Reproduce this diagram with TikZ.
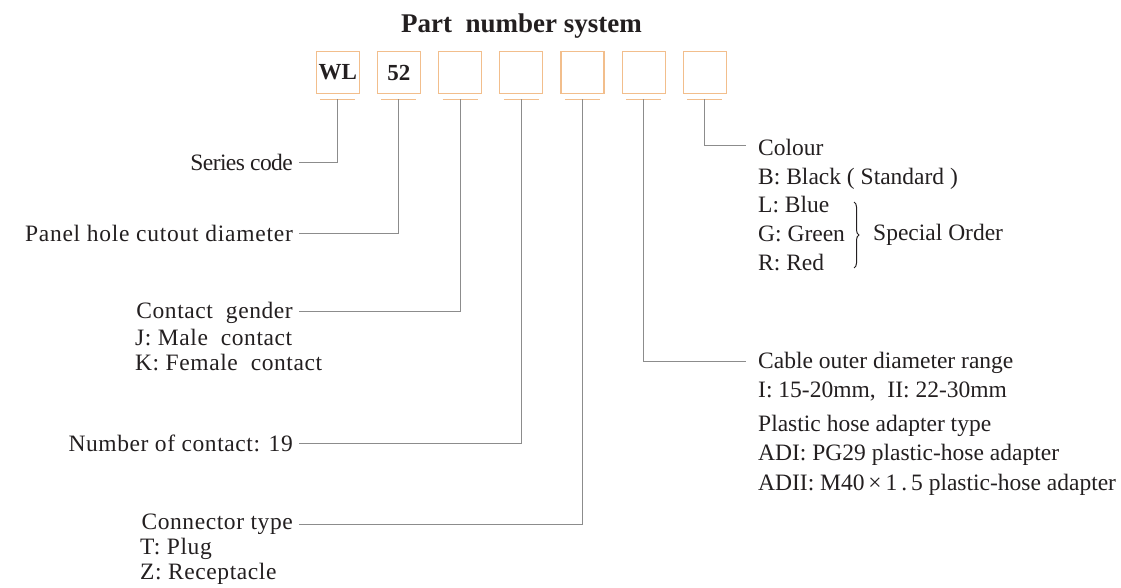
\documentclass[tikz,border=0pt]{standalone}
\usepackage{fontspec}
\setmainfont{Liberation Serif}
\usetikzlibrary{positioning,decorations.pathreplacing}
\definecolor{boxline}{HTML}{F2BE8C}
\definecolor{leadline}{HTML}{8C8C8C}
\definecolor{ink}{HTML}{231F20}

\begin{document}
\begin{tikzpicture}[x=1pt,y=-1pt,
  digit/.style={draw=boxline,line width=1.2pt,minimum width=43pt,minimum height=42.5pt,
                inner sep=0pt,font=\fontsize{23}{23}\selectfont\bfseries,text=ink},
  uline/.style={boxline,line width=1.2pt},
  lead/.style={leadline,line width=1pt},
  lbl/.style={inner sep=0pt,font=\fontsize{23.5}{29}\selectfont,text=ink,align=left},
  wide/.style={font=\fontsize{23.5}{#1}\selectfont\addfontfeature{LetterSpace=2.5}},
  wide/.default=29,
  node distance=17pt]
\useasboundingbox (0,0) rectangle (1121,587);
% title and code boxes
\node[font=\fontsize{27}{27}\selectfont\bfseries,text=ink,anchor=base] (title) at (521.5,32) {Part\ \ number system};
\node[digit] (b1) at (337.7,72.5) {WL};
\node[digit,right=of b1] (b2) {52};
\node[digit,right=of b2] (b3) {};
\node[digit,right=of b3] (b4) {};
\node[digit,right=of b4] (b5) {};
\node[digit,right=of b5] (b6) {};
\node[digit,right=of b6] (b7) {};
\draw[uline] ([xshift=-17.5pt,yshift=-5pt]b1.south) -- ++(35,0);
\draw[uline] ([xshift=-17.5pt,yshift=-5pt]b2.south) -- ++(35,0);
\draw[uline] ([xshift=-17.5pt,yshift=-5pt]b3.south) -- ++(35,0);
\draw[uline] ([xshift=-17.5pt,yshift=-5pt]b4.south) -- ++(35,0);
\draw[uline] ([xshift=-17.5pt,yshift=-5pt]b5.south) -- ++(35,0);
\draw[uline] ([xshift=-17.5pt,yshift=-5pt]b6.south) -- ++(35,0);
\draw[uline] ([xshift=-17.5pt,yshift=-5pt]b7.south) -- ++(35,0);
% left side labels (base of a block = its last line)
\node[lbl,anchor=base east,font=\fontsize{23.5}{29}\selectfont\addfontfeature{LetterSpace=-2.5}]
     (series) at (293,170.7) {Series code};
\node[lbl,anchor=base east,font=\fontsize{23.5}{29}\selectfont\addfontfeature{LetterSpace=3.2}]
     (panel) at (293,241.7) {Panel hole cutout diameter};
\node[lbl,wide,anchor=base east] (gender) at (293,318.3) {Contact\ \ gender};
\node[lbl,wide=25.7,anchor=base west] (genderx) at (135,370.7)
     {J: Male\ \ contact\\K: Female\ \ contact};
\node[lbl,wide,anchor=base east] (count) at (293,451.7) {Number of contact: 19};
\node[lbl,wide,anchor=base east] (ctype) at (293,529.3) {Connector type};
\node[lbl,wide=25.3,anchor=base west] (ctypex) at (140,579.3)
     {T: Plug\\Z: Receptacle};
% right side labels
\node[lbl,anchor=base west] (colour) at (758,155) {Colour};
\node[lbl,anchor=base west,font=\fontsize{23.5}{28.9}\selectfont] (colourx) at (758,270.7)
     {B: Black ( Standard )\\L: Blue\\G: Green\\R: Red};
\draw[ink,line width=1pt,decorate,decoration={brace,amplitude=5pt}] (854,202) -- (854,268);
\node[lbl,anchor=base west] (special) at (873,240.7) {Special Order};
\node[lbl,anchor=base west] (cable) at (758,368.3) {Cable outer diameter range};
\node[lbl,anchor=base west] (cablex) at (758,397.7) {I: 15-20mm,\ \ II: 22-30mm};
\node[lbl,anchor=base west,font=\fontsize{23.5}{29.85}\selectfont] (hose) at (758,490.7)
     {Plastic hose adapter type\\ADI: PG29 plastic-hose adapter\\ADII: M40\,×\,1\,.\,5 plastic-hose adapter};
% leader lines
\draw[lead] ([yshift=-5pt]b1.south) |- ([xshift=6pt,yshift=8.4pt]series.base east);
\draw[lead] ([yshift=-5pt]b2.south) |- ([xshift=6pt,yshift=8.4pt]panel.base east);
\draw[lead] ([yshift=-5pt]b3.south) |- ([xshift=6pt,yshift=6.6pt]gender.base east);
\draw[lead] ([yshift=-5pt]b4.south) |- ([xshift=6pt,yshift=8.4pt]count.base east);
\draw[lead] ([yshift=-5pt]b5.south) |- ([xshift=6pt,yshift=5pt]ctype.base east);
\draw[lead] ([yshift=-5pt]b6.south) |- ([xshift=-12pt,yshift=7.3pt]cable.base west);
\draw[lead] ([yshift=-5pt]b7.south) |- ([xshift=-12pt,yshift=9.3pt]colour.base west);
\end{tikzpicture}
\end{document}
